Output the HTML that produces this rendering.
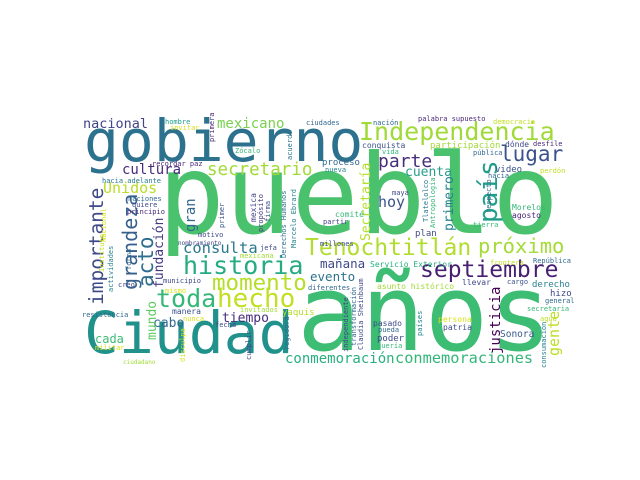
<!DOCTYPE html>
<html><head><meta charset="utf-8"><style>
html,body{margin:0;padding:0;background:#fff;width:640px;height:480px;overflow:hidden}
svg text{font-family:"DejaVu Sans Mono","Liberation Mono",monospace}
</style></head><body>
<svg width="640" height="480" xmlns="http://www.w3.org/2000/svg">
<g>
<text x="158" y="233" font-size="111" fill="#4ac16d">pueblo</text>
<text x="297" y="350" font-size="106" fill="#3dbc74">años</text>
<text x="84" y="161" font-size="58" fill="#2c728e">gobierno</text>
<text x="84" y="353" font-size="58" fill="#21918c">Ciudad</text>
<text x="359" y="140" font-size="25" fill="#a0da39">Independencia</text>
<text x="500" y="161" font-size="21" fill="#3b528b">lugar</text>
<text x="378" y="167" font-size="18" fill="#472d7b">parte</text>
<text x="405" y="176" font-size="13" fill="#2a9d8a">cuenta</text>
<text x="378" y="207" font-size="15" fill="#3b528b">hoy</text>
<text transform="rotate(-90 497 223)" x="497" y="223" font-size="26" fill="#1f9e89">país</text>
<text transform="rotate(-90 453 231)" x="453" y="231" font-size="13" fill="#26828e">primero</text>
<text transform="rotate(-90 370 241)" x="370" y="241" font-size="13" fill="#b5de2b">Secretaría</text>
<text x="207" y="175" font-size="17.5" fill="#a2da37">secretario</text>
<text x="217" y="128" font-size="14" fill="#7ad151">mexicano</text>
<text x="83" y="128" font-size="13.5" fill="#414487">nacional</text>
<text x="122" y="174" font-size="14" fill="#472c7a">cultura</text>
<text x="103" y="193" font-size="15" fill="#b8de29">Unidos</text>
<text transform="rotate(-90 103 305)" x="103" y="305" font-size="19.5" fill="#3e4989">importante</text>
<text transform="rotate(-90 137 290)" x="137" y="290" font-size="20" fill="#355f8d">grandeza</text>
<text transform="rotate(-90 153 287)" x="153" y="287" font-size="21" fill="#2e6e8e">acto</text>
<text transform="rotate(-90 163 288)" x="163" y="288" font-size="13" fill="#443a83">fundación</text>
<text transform="rotate(-90 195 232)" x="195" y="232" font-size="14" fill="#31688e">gran</text>
<text x="183" y="274" font-size="25" fill="#25ab82">historia</text>
<text x="183" y="253" font-size="15.5" fill="#2a788e">consulta</text>
<text x="212" y="290" font-size="22.5" fill="#b5de2b">momento</text>
<text x="156" y="307" font-size="25" fill="#35b779">toda</text>
<text x="217" y="307" font-size="26" fill="#c2df23">hecho</text>
<text x="305" y="255" font-size="23" fill="#b0dd2f">Tenochtitlán</text>
<text x="478" y="253" font-size="20.5" fill="#a5db36">próximo</text>
<text x="420" y="277" font-size="23" fill="#481f70">septiembre</text>
<text x="320" y="268" font-size="12.5" fill="#3e4a89">mañana</text>
<text x="310" y="281" font-size="12.5" fill="#2c728e">evento</text>
<text x="370" y="267" font-size="8" fill="#27ad81">Servicio Exterior</text>
<text x="222" y="322" font-size="13" fill="#472d7b">tiempo</text>
<text x="153" y="327" font-size="13" fill="#31688e">cabo</text>
<text x="95" y="343" font-size="12" fill="#3dbc74">cada</text>
<text transform="rotate(-90 156 340)" x="156" y="340" font-size="13" fill="#5ec962">mundo</text>
<text x="282" y="315" font-size="9" fill="#b5de2b">yaquis</text>
<text x="285" y="363" font-size="14" fill="#29af7f">conmemoración</text>
<text x="395" y="363" font-size="15.3" fill="#34b679">conmemoraciones</text>
<text transform="rotate(-90 500 354)" x="500" y="354" font-size="14" fill="#440154">justicia</text>
<text transform="rotate(-90 559 356)" x="559" y="356" font-size="15" fill="#bddf26">gente</text>
<text x="500" y="337" font-size="9.5" fill="#38598c">Sonora</text>
</g>
<g font-size="7">
<text x="165" y="124" fill="#1f9e89">hombre</text>
<text x="170" y="130" fill="#d8e219">invitar</text>
<text x="306" y="125" fill="#31688e">ciudades</text>
<text x="235" y="153" fill="#35b779">Zócalo</text>
<text transform="rotate(-90 214 142)" x="214" y="142" fill="#482878">primera</text>
<text transform="rotate(-90 292 160)" x="292" y="160" fill="#2a788e">acuerdo</text>
<text x="152" y="166" fill="#482878">recordar paz</text>
<text x="102" y="183" fill="#2a788e">hacia adelante</text>
<text x="128" y="201" fill="#31688e">naciones</text>
<text x="132" y="207" fill="#3e4989">quiere</text>
<text x="127" y="214" fill="#482878">principio</text>
<text transform="rotate(-90 224 228)" x="224" y="228" fill="#3b528b">primer</text>
<text transform="rotate(-90 256 222)" x="256" y="222" font-size="8" fill="#414487">mexica</text>
<text transform="rotate(-90 263 232)" x="263" y="232" fill="#443a83">propósito</text>
<text transform="rotate(-90 270 222)" x="270" y="222" fill="#3b528b">firma</text>
<text transform="rotate(-90 286 258)" x="286" y="258" fill="#2c728e">Derechos Humanos</text>
<text transform="rotate(-90 296 248)" x="296" y="248" fill="#26828e">Marcelo Ebrard</text>
<text x="198" y="237" fill="#3e4989">motivo</text>
<text transform="rotate(-90 106 242)" x="106" y="242" fill="#d8e219">Nacional</text>
<text x="373" y="125" fill="#31688e">nación</text>
<text x="418" y="121" fill="#482878">palabra supuesto</text>
<text x="493" y="124" fill="#c2df23">democracia</text>
<text x="362" y="148" font-size="8" fill="#3b528b">conquista</text>
<text x="430" y="148" font-size="9" fill="#a2da37">participación</text>
<text x="505" y="147" font-size="8" fill="#3e4989">dónde</text>
<text x="533" y="146" fill="#482878">desfile</text>
<text x="382" y="154" fill="#35b779">vida</text>
<text x="473" y="155" fill="#31688e">pública</text>
<text x="322" y="165" font-size="9" fill="#31688e">proceso</text>
<text x="325" y="172" fill="#26828e">nueva</text>
<text x="495" y="172" font-size="9" fill="#3b528b">video</text>
<text x="488" y="178" fill="#31688e">hacia</text>
<text x="540" y="173" fill="#c2df23">perdón</text>
<text x="392" y="195" fill="#3e4989">maya</text>
<text transform="rotate(-90 428 222)" x="428" y="222" fill="#2a788e">Tlatelolco</text>
<text transform="rotate(-90 435 228)" x="435" y="228" fill="#35b779">Antropología</text>
<text transform="rotate(-90 491 213)" x="491" y="213" fill="#31688e">respecto</text>
<text x="512" y="210" font-size="8" fill="#35b779">Morelos</text>
<text x="512" y="218" font-size="8" fill="#482878">agosto</text>
<text x="335" y="217" font-size="8" fill="#35b779">comité</text>
<text x="323" y="224" fill="#414487">partir</text>
<text x="473" y="227" fill="#35b779">tierra</text>
<text x="415" y="236" font-size="9" fill="#3e4989">plan</text>
<text x="320" y="246" fill="#3e4989">millones</text>
<text x="178" y="245" font-size="6" fill="#414487">nombramiento</text>
<text x="260" y="250" fill="#3e4989">jefa</text>
<text x="240" y="258" fill="#a2da37">mexicana</text>
<text transform="rotate(-90 104 272)" x="104" y="272" fill="#c2df23">Instituto</text>
<text transform="rotate(-90 113 292)" x="113" y="292" fill="#26828e">actividades</text>
<text transform="rotate(-90 131 270)" x="131" y="270" fill="#31688e">forma</text>
<text x="163" y="283" fill="#3e4989">municipio</text>
<text x="118" y="287" fill="#3e4989">creo</text>
<text x="165" y="293" fill="#d8e219">mismo</text>
<text x="308" y="290" fill="#31688e">diferentes</text>
<text x="172" y="314" font-size="8" fill="#3b528b">manera</text>
<text x="240" y="312" fill="#a2da37">invitados</text>
<text x="82" y="317" fill="#31688e">resistencia</text>
<text x="183" y="321" fill="#d8e219">nunca</text>
<text x="215" y="327" fill="#3e4989">fecha</text>
<text x="95" y="350" fill="#d8e219">militar</text>
<text transform="rotate(-90 185 362)" x="185" y="362" fill="#d8e219">disculpa</text>
<text transform="rotate(-90 251 360)" x="251" y="360" fill="#414487">cumplir</text>
<text transform="rotate(-90 289 350)" x="289" y="350" fill="#31688e">regidora</text>
<text x="123" y="364" font-size="6" fill="#a2da37">ciudadano</text>
<text x="490" y="265" fill="#c2df23">frontera</text>
<text x="533" y="263" fill="#31688e">República</text>
<text x="377" y="289" font-size="8" fill="#a2da37">asunto histórico</text>
<text x="462" y="285" font-size="8" fill="#3e4989">llevar</text>
<text x="507" y="284" fill="#3b528b">cargo</text>
<text x="532" y="287" font-size="9" fill="#26828e">derecho</text>
<text x="550" y="296" font-size="9" fill="#3e4989">hizo</text>
<text x="545" y="303" fill="#31688e">general</text>
<text x="527" y="311" fill="#35b779">secretaria</text>
<text x="540" y="321" fill="#c2df23">agua</text>
<text x="438" y="322" font-size="8" fill="#d8e219">persona</text>
<text x="373" y="326" font-size="8" fill="#3e4989">pasado</text>
<text x="378" y="332" fill="#31688e">pueda</text>
<text x="443" y="330" font-size="8" fill="#3e4989">patria</text>
<text x="377" y="341" font-size="9" fill="#3e4989">poder</text>
<text x="377" y="348" fill="#35b779">quería</text>
<text transform="rotate(-90 422 336)" x="422" y="336" fill="#26828e">países</text>
<text transform="rotate(-90 348 352)" x="348" y="352" fill="#3e4989">independiente</text>
<text transform="rotate(-90 356 346)" x="356" y="346" fill="#31688e">transformación</text>
<text transform="rotate(-90 363 350)" x="363" y="350" fill="#3e4989">Claudia Sheinbaum</text>
<text transform="rotate(-90 546 368)" x="546" y="368" fill="#26828e">consumación</text>
</g>
</svg>
</body></html>
